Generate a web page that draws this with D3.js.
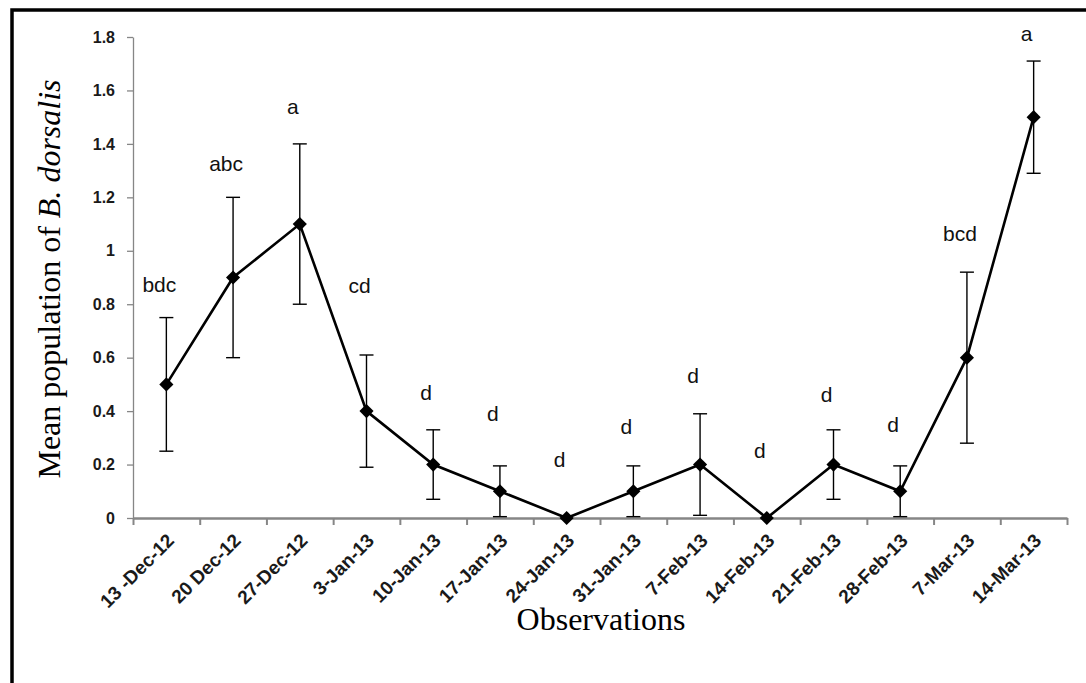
<!DOCTYPE html>
<html>
<head>
<meta charset="utf-8">
<script src="https://cdn.jsdelivr.net/npm/d3@7"></script>
<style>
  body { margin: 0; background: #fff; }
  svg { display: block; }
  .axis text { font-family: "Liberation Sans", Arial, sans-serif; font-weight: bold; font-size: 16px; fill: #1a1a1a; }
  .x-lab text { font-size: 19px; }
  .axis path, .axis line { stroke: #868686; }
  .letter { font-family: "Liberation Sans", Arial, sans-serif; font-size: 21px; fill: #111; }
  .title { font-family: "Liberation Serif", "Times New Roman", serif; font-size: 32px; fill: #000; }
</style>
</head>
<body>
<div id="chart"></div>
<script>
// mean B. dorsalis per observation date, with error bars and letter groups

const width = 1086,
    height = 683,
    margin = ({ top: 37, right: 19, bottom: 165, left: 133 });

const dates = ["13 -Dec-12", "20 Dec-12", "27-Dec-12", "3-Jan-13", "10-Jan-13", "17-Jan-13", "24-Jan-13",
    "31-Jan-13", "7-Feb-13", "14-Feb-13", "21-Feb-13", "28-Feb-13", "7-Mar-13", "14-Mar-13"];
const means = [0.5, 0.9, 1.1, 0.4, 0.2, 0.1, 0, 0.1, 0.2, 0, 0.2, 0.1, 0.6, 1.5];
const errors = [0.25, 0.3, 0.3, 0.21, 0.13, 0.095, 0, 0.095, 0.19, 0, 0.13, 0.095, 0.32, 0.21];
const letters = ["bdc", "abc", "a", "cd", "d", "d", "d", "d", "d", "d", "d", "d", "bcd", "a"];
const letterAt = [0.846, 1.3, 1.51, 0.842, 0.44, 0.363, 0.19, 0.315, 0.505, 0.225, 0.434, 0.322, 1.037, 1.785]; // baseline, in y units
const yTicks = [0, 0.2, 0.4, 0.6, 0.8, 1, 1.2, 1.4, 1.6, 1.8];

let data = dates.map((d, i) => ({ date: d, mean: means[i], err: errors[i], letter: letters[i], at: letterAt[i] }));

let svg = d3.select("#chart")
    .append("svg")
    .attr("width", width)
    .attr("height", height);

// frame around the figure (only top and left show in the crop)
svg.append("path")
    .attr("d", `M12,${height} V10 H${width}`)
    .attr("fill", "none")
    .attr("stroke", "#000")
    .attr("stroke-width", 3.5);

let x = d3.scaleBand()
    .domain(dates)
    .range([margin.left, width - margin.right])
    .padding(0);

let xEdge = d3.scaleLinear() // tick marks sit on the category boundaries
    .domain([0, dates.length])
    .range([margin.left, width - margin.right]);

let y = d3.scaleLinear()
    .domain([0, 1.8])
    .range([height - margin.bottom, margin.top]);

let cx = d => x(d.date) + x.bandwidth() / 2;

// y axis
let yAxis = svg.append("g")
    .attr("class", "axis")
    .attr("transform", `translate(${margin.left},0)`)
    .call(d3.axisLeft(y).tickValues(yTicks).tickFormat(d3.format("~g")).tickSize(6).tickSizeOuter(0).tickPadding(12));
yAxis.select(".domain").attr("stroke-width", 1.3);
yAxis.selectAll(".tick line").attr("stroke-width", 1.3);

// x axis ticks
let xTicks = svg.append("g")
    .attr("class", "axis")
    .attr("transform", `translate(0,${height - margin.bottom})`)
    .call(d3.axisBottom(xEdge).tickValues(d3.range(dates.length + 1)).tickFormat("").tickSize(7).tickSizeOuter(0));
xTicks.select(".domain").attr("stroke-width", 2.5);
xTicks.selectAll(".tick line").attr("stroke-width", 2);

// x labels, rotated
let xLabels = svg.append("g")
    .attr("class", "axis x-lab")
    .attr("transform", `translate(0,${height - margin.bottom})`)
    .call(d3.axisBottom(x).tickSize(0));
xLabels.select(".domain").remove();
xLabels.selectAll("text")
    .attr("text-anchor", "end")
    .attr("dy", "0.35em")
    .attr("transform", "translate(2,17) rotate(-45)");

// error bars
let bars = svg.append("g")
    .attr("stroke", "#000")
    .attr("stroke-width", 1.4)
    .selectAll("g")
    .data(data.filter(d => d.err > 0))
    .join("g");

bars.append("line")
    .attr("x1", cx).attr("x2", cx)
    .attr("y1", d => y(d.mean - d.err))
    .attr("y2", d => y(d.mean + d.err));
bars.append("line")
    .attr("x1", d => cx(d) - 7).attr("x2", d => cx(d) + 7)
    .attr("y1", d => y(d.mean + d.err)).attr("y2", d => y(d.mean + d.err));
bars.append("line")
    .attr("x1", d => cx(d) - 7).attr("x2", d => cx(d) + 7)
    .attr("y1", d => y(d.mean - d.err)).attr("y2", d => y(d.mean - d.err));

// the line
let line = d3.line()
    .x(cx)
    .y(d => y(d.mean));

svg.append("path")
    .datum(data)
    .attr("d", line)
    .attr("fill", "none")
    .attr("stroke", "#000")
    .attr("stroke-width", 2.6);

// diamond markers
svg.append("g")
    .selectAll("path")
    .data(data)
    .join("path")
    .attr("d", d3.symbol(d3.symbolSquare, 100))
    .attr("transform", d => `translate(${cx(d)},${y(d.mean)}) rotate(45)`)
    .attr("fill", "#000");

// significance letters
svg.append("g")
    .selectAll("text")
    .data(data)
    .join("text")
    .attr("class", "letter")
    .attr("text-anchor", "middle")
    .attr("x", d => cx(d) - 7)
    .attr("y", d => y(d.at))
    .text(d => d.letter);

// axis titles
svg.append("text")
    .attr("class", "title")
    .attr("text-anchor", "middle")
    .attr("x", (margin.left + width - margin.right) / 2 + 1)
    .attr("y", 630)
    .text("Observations");

let yTitle = svg.append("text")
    .attr("class", "title")
    .attr("text-anchor", "middle")
    .attr("transform", `translate(60,${279}) rotate(-90)`);
yTitle.append("tspan").text("Mean population of ");
yTitle.append("tspan").attr("font-style", "italic").text("B. dorsalis");
</script>
</body>
</html>
